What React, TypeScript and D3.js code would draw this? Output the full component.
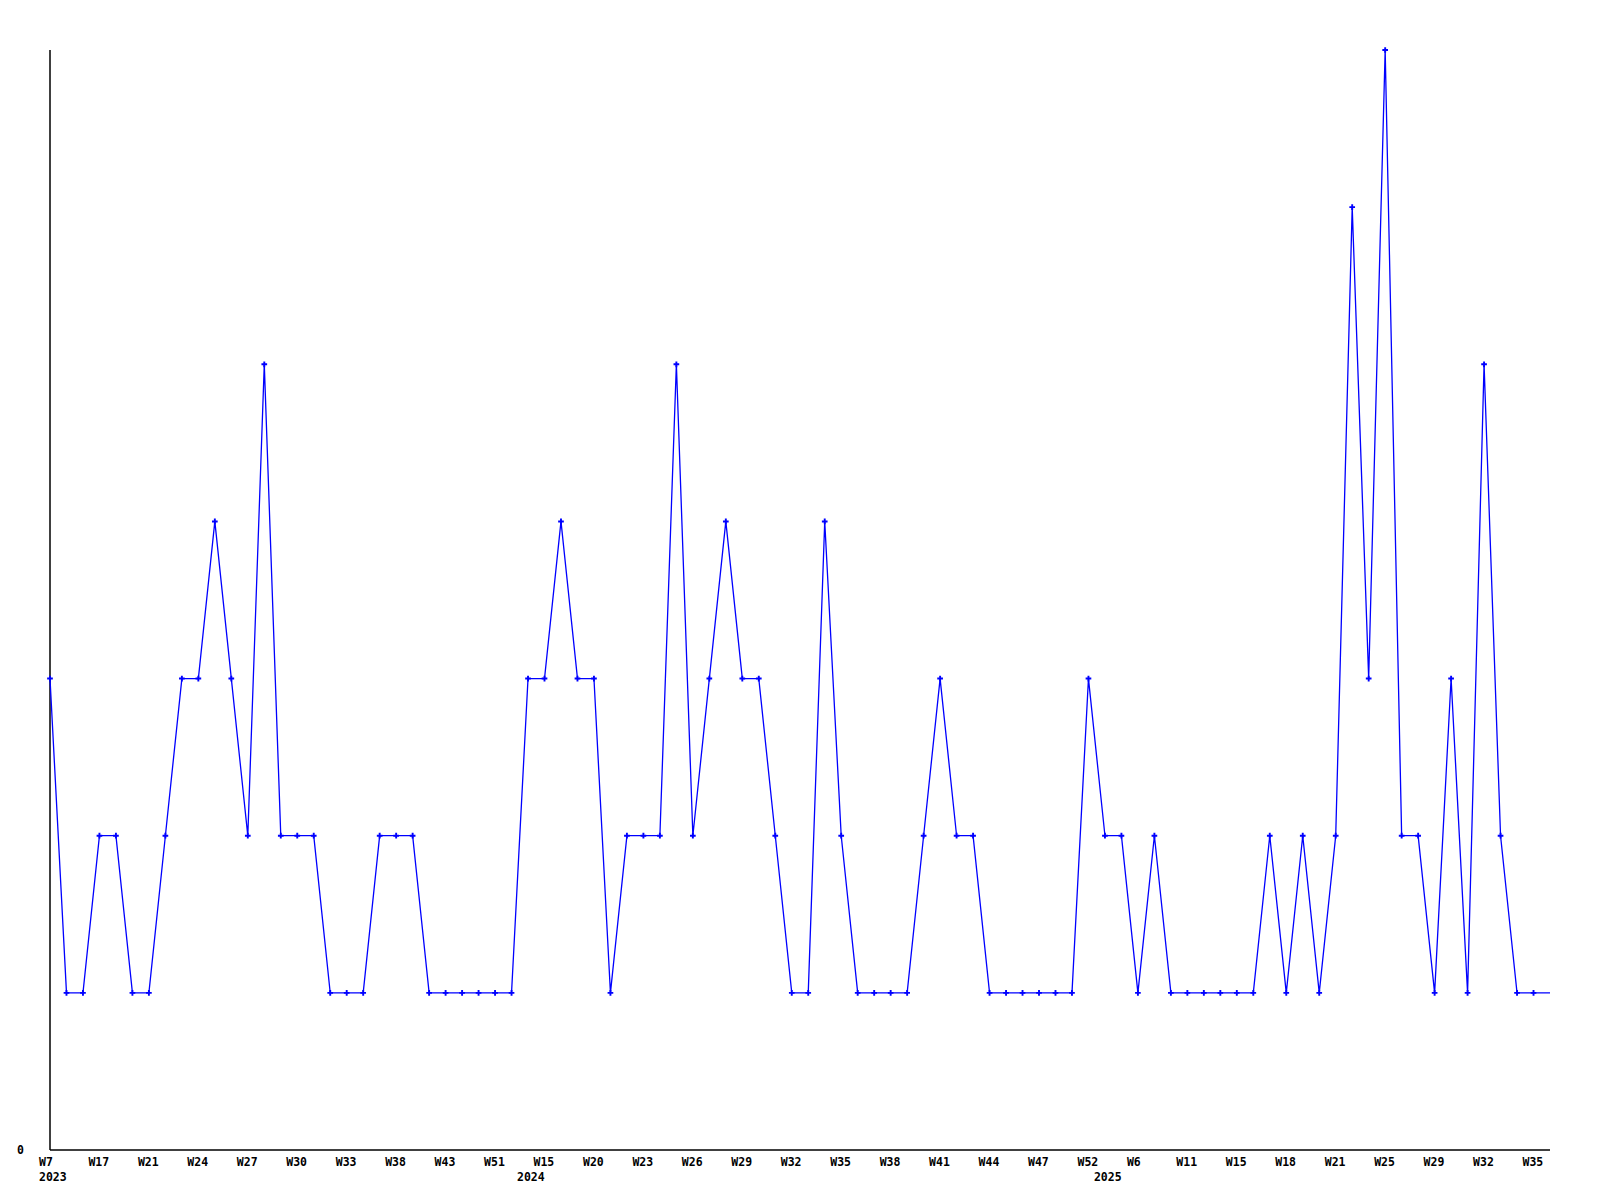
import React from "react";
import * as d3 from "d3";

// Category (week) of each point, with the year it belongs to
const years: number[] = [
  ...Array(29).fill(2023),
  ...Array(35).fill(2024),
  ...Array(28).fill(2025),
];
const weeks: string[] = [
  // 2023
  "W7", "W10", "W14", "W17", "W18", "W20", "W21", "W22", "W23", "W24",
  "W25", "W26", "W27", "W28", "W29", "W30", "W31", "W32", "W33", "W35",
  "W36", "W38", "W40", "W41", "W43", "W45", "W48", "W51", "W52",
  // 2024
  "W8", "W15", "W17", "W18", "W20", "W21", "W22", "W23", "W24", "W25",
  "W26", "W27", "W28", "W29", "W30", "W31", "W32", "W33", "W34", "W35",
  "W36", "W37", "W38", "W39", "W40", "W41", "W42", "W43", "W44", "W45",
  "W46", "W47", "W49", "W50", "W52",
  // 2025
  "W2", "W4", "W6", "W8", "W9", "W11", "W12", "W13", "W15", "W16",
  "W17", "W18", "W19", "W20", "W21", "W22", "W24", "W25", "W26", "W28",
  "W29", "W30", "W31", "W32", "W33", "W34", "W35", "W36",
];
const values: number[] = [
  3, 1, 1, 2, 2, 1, 1, 2, 3, 3,
  4, 3, 2, 5, 2, 2, 2, 1, 1, 1,
  2, 2, 2, 1, 1, 1, 1, 1, 1, 3,
  3, 4, 3, 3, 1, 2, 2, 2, 5, 2,
  3, 4, 3, 3, 2, 1, 1, 4, 2, 1,
  1, 1, 1, 2, 3, 2, 2, 1, 1, 1,
  1, 1, 1, 3, 2, 2, 1, 2, 1, 1,
  1, 1, 1, 1, 2, 1, 2, 1, 2, 6,
  3, 7, 2, 2, 1, 3, 1, 5, 2, 1,
  1, 1,
];
const yTickLabels: number[] = [0];
const yMax = 7;

const W = 1600;
const H = 1200;
const left = 50;
const right = 1550;
const top = 50;
const bottom = 1150;
const font = "'DejaVu Sans Mono', monospace";

export default function App() {
  const idx = values.map((_, i) => String(i));
  const x = d3.scalePoint<string>().domain(idx).range([left, right]);
  const y = d3.scaleLinear().domain([0, yMax]).range([bottom, top]);

  const line = d3
    .line<number>()
    .x((_, i) => x(String(i)) as number)
    .y((d) => y(d));

  const marker = d3.symbol().type(d3.symbolCross).size(18)() as string;

  const yearStarts = years
    .map((yr, i) => ({ yr, i }))
    .filter((d) => d.i === 0 || years[d.i - 1] !== d.yr);

  return (
    <svg
      width={W}
      height={H}
      style={{ position: "absolute", left: 0, top: 0, background: "#fff" }}
    >
      <rect x={0} y={0} width={W} height={H} fill="#fff" />
      {/* axes */}
      <line x1={left} y1={top} x2={left} y2={bottom} stroke="#000" strokeWidth={1.5} />
      <line x1={left} y1={bottom} x2={right} y2={bottom} stroke="#000" strokeWidth={1.5} />

      {yTickLabels.map((t) => (
        <text
          key={t}
          x={left - 26}
          y={y(t) + 4}
          textAnchor="end"
          fontFamily={font}
          fontWeight="bold"
          fontSize={11.5}
          fill="#000"
        >
          {t}
        </text>
      ))}

      {/* line */}
      <path d={line(values) as string} fill="none" stroke="#0000ff" strokeWidth={1.3} />
      {values.map((v, i) =>
        i < values.length - 1 ? (
          <path
            key={i}
            d={marker}
            transform={`translate(${x(String(i))},${y(v)})`}
            fill="#0000ff"
          />
        ) : null
      )}

      {/* week labels */}
      {weeks.map((w, i) =>
        i % 3 === 0 ? (
          <text
            key={"w" + i}
            x={(x(String(i)) as number) - 11}
            y={bottom + 16}
            fontFamily={font}
            fontWeight="bold"
            fontSize={11.5}
            fill="#000"
          >
            {w}
          </text>
        ) : null
      )}
      {/* year labels */}
      {yearStarts.map((d) => (
        <text
          key={"y" + d.yr}
          x={(x(String(d.i)) as number) - 11}
          y={bottom + 31}
          fontFamily={font}
          fontWeight="bold"
          fontSize={11.5}
          fill="#000"
        >
          {d.yr}
        </text>
      ))}
    </svg>
  );
}
